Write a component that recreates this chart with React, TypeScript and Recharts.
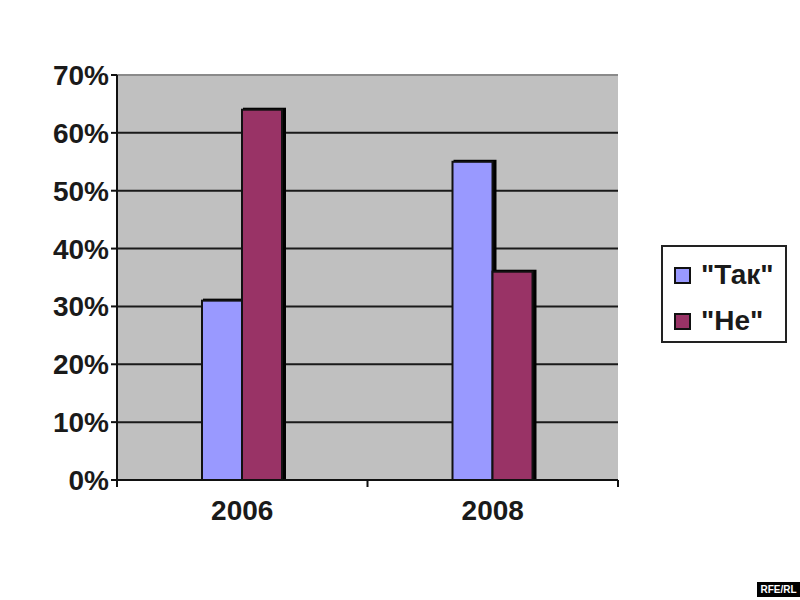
import { BarChart, Bar, XAxis, YAxis, CartesianGrid, ReferenceLine } from "recharts";

const years = ["2006", "2008"];
const takValues = [31, 55];
const neValues = [64, 36];
const yTicks = [0, 10, 20, 30, 40, 50, 60, 70];
const seriesNames = ['"Так"', '"Не"'];
const seriesColors = ["#9999FF", "#993366"];

const data = years.map((year, i) => ({ year, tak: takValues[i], ne: neValues[i] }));

const FONT = "'Liberation Sans', Arial, sans-serif";

function ShadowBar(props: any) {
  const { x, y, width, height, fill } = props;
  if (!height || height <= 0) return null;
  return (
    <g>
      <rect x={x + 1} y={y - 2} width={width + 3} height={height + 2} fill="#000" />
      <rect x={x} y={y} width={width} height={height} fill={fill} stroke="#111" strokeWidth={2} />
    </g>
  );
}

function YearTick(props: any) {
  const { x, y, payload, index, visibleTicksCount, width } = props;
  const band = width && visibleTicksCount ? width / visibleTicksCount : 250;
  const axisY = y - 20;
  return (
    <g>
      <line x1={x - band / 2} y1={axisY} x2={x - band / 2} y2={axisY + 7} stroke="#111" strokeWidth={2} />
      {index === visibleTicksCount - 1 && (
        <line x1={x + band / 2} y1={axisY} x2={x + band / 2} y2={axisY + 7} stroke="#111" strokeWidth={2} />
      )}
      <text x={x} y={y} dy="0.71em" textAnchor="middle" fill="#1a1a1a" fontSize={28} fontWeight="bold" fontFamily={FONT}>
        {payload.value}
      </text>
    </g>
  );
}

export default function App() {
  return (
    <div style={{ position: "absolute", left: 0, top: 0, width: 800, height: 600, background: "#fff", fontFamily: FONT }}>
      <BarChart
        width={800}
        height={600}
        data={data}
        margin={{ top: 75, right: 182, bottom: 80, left: 0 }}
        barGap={0}
        barSize={40}
      >
        <CartesianGrid vertical={false} fill="#C0C0C0" stroke="#1a1a1a" strokeWidth={2} />
        <ReferenceLine y={70} stroke="#8a8a8a" strokeWidth={2} />
        <XAxis
          dataKey="year"
          height={40}
          tickLine={false}
          tickSize={8}
          tickMargin={12}
          axisLine={{ stroke: "#111", strokeWidth: 2 }}
          tick={<YearTick />}
          interval={0}
        />
        <YAxis
          width={117}
          domain={[0, 70]}
          ticks={yTicks}
          interval={0}
          tickFormatter={(v: number) => `${v}%`}
          tickSize={6}
          tickMargin={2}
          tickLine={{ stroke: "#111", strokeWidth: 2 }}
          axisLine={{ stroke: "#111", strokeWidth: 2 }}
          tick={{ fill: "#1a1a1a", fontSize: 28, fontWeight: "bold", fontFamily: FONT }}
        />
        <YAxis
          yAxisId="right"
          orientation="right"
          width={0}
          domain={[0, 70]}
          tick={false}
          tickLine={false}
          axisLine={{ stroke: "#8a8a8a", strokeWidth: 2 }}
        />
        <Bar dataKey="tak" name={seriesNames[0]} fill={seriesColors[0]} shape={<ShadowBar />} isAnimationActive={false} />
        <Bar dataKey="ne" name={seriesNames[1]} fill={seriesColors[1]} shape={<ShadowBar />} isAnimationActive={false} />
      </BarChart>

      <div
        style={{
          position: "absolute",
          left: 661,
          top: 245,
          width: 122,
          height: 94,
          border: "2px solid #222",
          background: "#fff",
        }}
      >
        {seriesNames.map((name, i) => (
          <div
            key={name}
            style={{
              position: "absolute",
              left: 11,
              top: i === 0 ? 12 : 58,
              display: "flex",
              alignItems: "center",
              height: 32,
            }}
          >
            <div style={{ width: 13, height: 13, background: seriesColors[i], border: "2px solid #111" }} />
            <span style={{ marginLeft: 10, fontSize: 28, fontWeight: "bold", color: "#1a1a1a", lineHeight: "32px" }}>
              {name}
            </span>
          </div>
        ))}
      </div>

      <div
        style={{
          position: "absolute",
          left: 757,
          top: 582,
          width: 43,
          height: 15,
          background: "#000",
          color: "#fff",
          fontSize: 10,
          fontWeight: "bold",
          lineHeight: "15px",
          textAlign: "center",
        }}
      >
        RFE/RL
      </div>
    </div>
  );
}
